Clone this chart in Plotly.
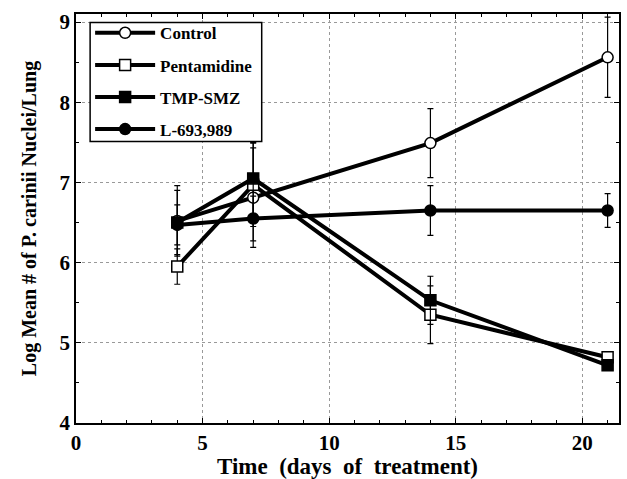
import plotly.graph_objects as go

days = [4, 7, 14, 21]
series_names = ["Control", "Pentamidine", "TMP-SMZ", "L-693,989"]
control = [6.52, 6.81, 7.49, 8.56]
control_err = [0.44, 0.62, 0.43, 0.50]
pentamidine = [5.95, 6.97, 5.35, 4.82]
pentamidine_err = [0.22, 0.52, 0.36, 0.0]
tmp_smz = [6.50, 7.05, 5.53, 4.72]
tmp_smz_err = [0.40, 0.45, 0.30, 0.0]
l693 = [6.47, 6.55, 6.65, 6.65]
l693_err = [0.25, 0.28, 0.31, 0.21]

x_ticks = [0, 5, 10, 15, 20]
y_ticks = [4, 5, 6, 7, 8, 9]

styles = [
    ("circle-open", control, control_err, "white"),
    ("square-open", pentamidine, pentamidine_err, "white"),
    ("square", tmp_smz, tmp_smz_err, "black"),
    ("circle", l693, l693_err, "black"),
]

fig = go.Figure()
for i, (name, (sym, vals, errs, fill)) in enumerate(zip(series_names, styles)):
    fig.add_trace(go.Scatter(
        x=days, y=vals, name=name, mode="lines+markers",
        legendgroup=f"g{i}",
        line=dict(color="black", width=4),
        marker=dict(symbol=sym.replace("-open", ""), size=11, color=fill,
                    line=dict(color="black", width=1.5)),
        error_y=dict(type="data", array=errs, visible=True, color="black",
                     thickness=1.2, width=3),
    ))

font_family = "Liberation Serif"
# legend frame drawn as a shape (paper coords) so row spacing can match
fig.add_shape(type="rect", xref="paper", yref="paper",
              x0=0.026, x1=0.342, y0=0.688, y1=0.979,
              fillcolor="white", line=dict(color="black", width=1.5), layer="above")
fig.update_layout(
    width=627, height=479,
    margin=dict(l=76, r=6, t=14, b=55),
    plot_bgcolor="white", paper_bgcolor="white",
    font=dict(family=font_family, color="black"),
    showlegend=True,
    legend=dict(
        x=0.026, y=0.997, xanchor="left", yanchor="top",
        bgcolor="rgba(0,0,0,0)", borderwidth=0,
        font=dict(family=font_family, size=17, color="black", weight="bold"),
        tracegroupgap=7, itemwidth=60,
    ),
)
fig.update_xaxes(
    range=[0, 21.45], tickvals=x_ticks, ticktext=[f"<b>{v}</b>" for v in x_ticks],
    showgrid=True, gridcolor="#999999", griddash="dot", gridwidth=1,
    showline=True, linecolor="black", linewidth=1.5, mirror="ticks",
    ticks="inside", ticklen=5, tickcolor="black",
    minor=dict(dtick=1, ticks="inside", ticklen=3, tickcolor="black", showgrid=False),
    tickfont=dict(family=font_family, size=21, weight="bold"),
    title=dict(text="Time  (days  of  treatment)", standoff=2,
               font=dict(family=font_family, size=23, weight="bold")),
    zeroline=False,
)
fig.update_yaxes(
    range=[4, 9.1], tickvals=y_ticks, ticktext=[f"<b>{v}</b>" for v in y_ticks],
    showgrid=True, gridcolor="#999999", griddash="dot", gridwidth=1,
    showline=True, linecolor="black", linewidth=1.5, mirror="ticks",
    ticks="inside", ticklen=5, tickcolor="black",
    minor=dict(dtick=0.5, ticks="inside", ticklen=3, tickcolor="black", showgrid=False),
    tickfont=dict(family=font_family, size=21, weight="bold"),
    title=dict(text="Log Mean # of P. carinii Nuclei/Lung", standoff=18,
               font=dict(family=font_family, size=20, weight="bold")),
    zeroline=False,
)
fig.write_html("out.html")
